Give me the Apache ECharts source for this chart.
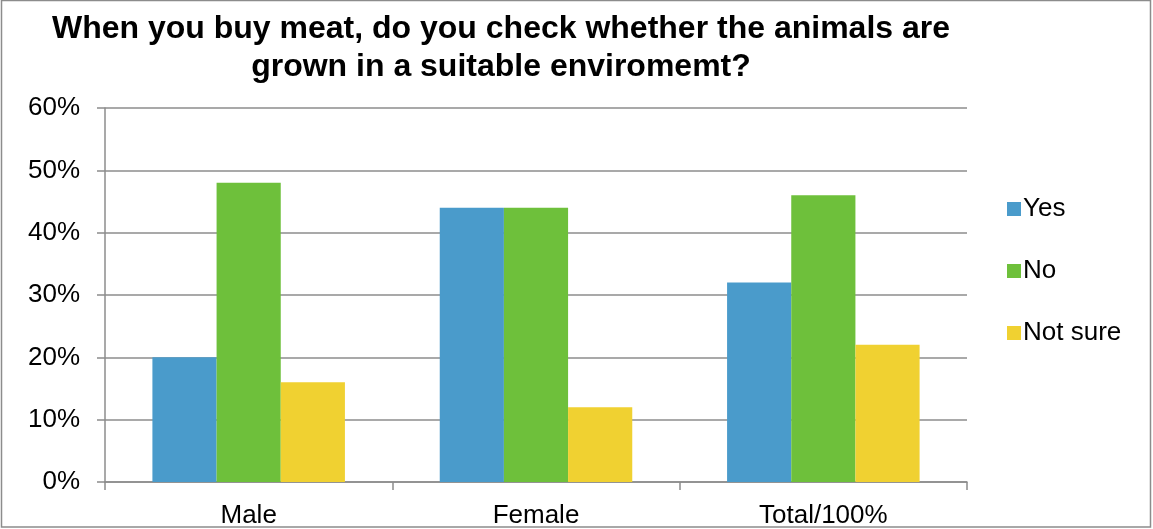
<!DOCTYPE html>
<html>
<head>
<meta charset="utf-8">
<script src="https://cdn.jsdelivr.net/npm/echarts@6/dist/echarts.min.js"></script>
<style>
  html, body { margin: 0; padding: 0; background: #fff; }
  #chart { width: 1153px; height: 529px; }
</style>
</head>
<body>
<div id="chart"></div>
<script>
// data
var categories = ['Male', 'Female', 'Total/100%'];
var yes = [20, 44, 32];
var no = [48, 44, 46];
var notSure = [16, 12, 22];

var chart = echarts.init(document.getElementById('chart'));
var font = 'Liberation Sans, Arial, sans-serif';

chart.setOption({
  animation: false,
  color: ['#4a9bcb', '#6ec03b', '#f0d131'],
  title: {
    text: 'When you buy meat, do you check whether the animals are\ngrown in a suitable enviromemt?',
    left: 496,
    textAlign: 'center',
    top: 5,
    textStyle: { fontFamily: font, fontSize: 32, fontWeight: 'bold', color: '#000', lineHeight: 38 }
  },
  // outer frame
  graphic: [{
    type: 'rect',
    shape: { x: 1.5, y: 0.5, width: 1149, height: 526.5 },
    style: { fill: 'none', stroke: '#8c8c8c', lineWidth: 1.5 }
  }],
  legend: {
    orient: 'vertical',
    left: 1002,
    top: 191,
    itemWidth: 14,
    itemHeight: 14,
    itemGap: 36,
    icon: 'rect',
    textStyle: { fontFamily: font, fontSize: 26, lineHeight: 26, color: '#000', padding: [0, 0, 0, -3] }
  },
  grid: { left: 105, right: 186, top: 108, bottom: 47 },
  xAxis: {
    type: 'category',
    data: categories,
    axisLine: { lineStyle: { color: '#8c8c8c', width: 1.5 } },
    axisTick: { show: true, length: 8, lineStyle: { color: '#8c8c8c', width: 1.5 } },
    axisLabel: { fontFamily: font, fontSize: 26, color: '#000', margin: 21 }
  },
  yAxis: {
    type: 'value',
    min: 0,
    max: 60,
    interval: 10,
    axisLine: { show: true, lineStyle: { color: '#8c8c8c', width: 1.5 } },
    axisTick: { show: true, length: 8, lineStyle: { color: '#8c8c8c', width: 1.5 } },
    splitLine: { lineStyle: { color: '#8c8c8c', width: 1.5 } },
    axisLabel: { fontFamily: font, fontSize: 26, color: '#000', margin: 25, formatter: '{value}%' }
  },
  series: [
    { name: 'Yes', type: 'bar', data: yes, barGap: '0%', barCategoryGap: '33%' },
    { name: 'No', type: 'bar', data: no, barGap: '0%', barCategoryGap: '33%' },
    { name: 'Not sure', type: 'bar', data: notSure, barGap: '0%', barCategoryGap: '33%' }
  ]
});
</script>
</body>
</html>
